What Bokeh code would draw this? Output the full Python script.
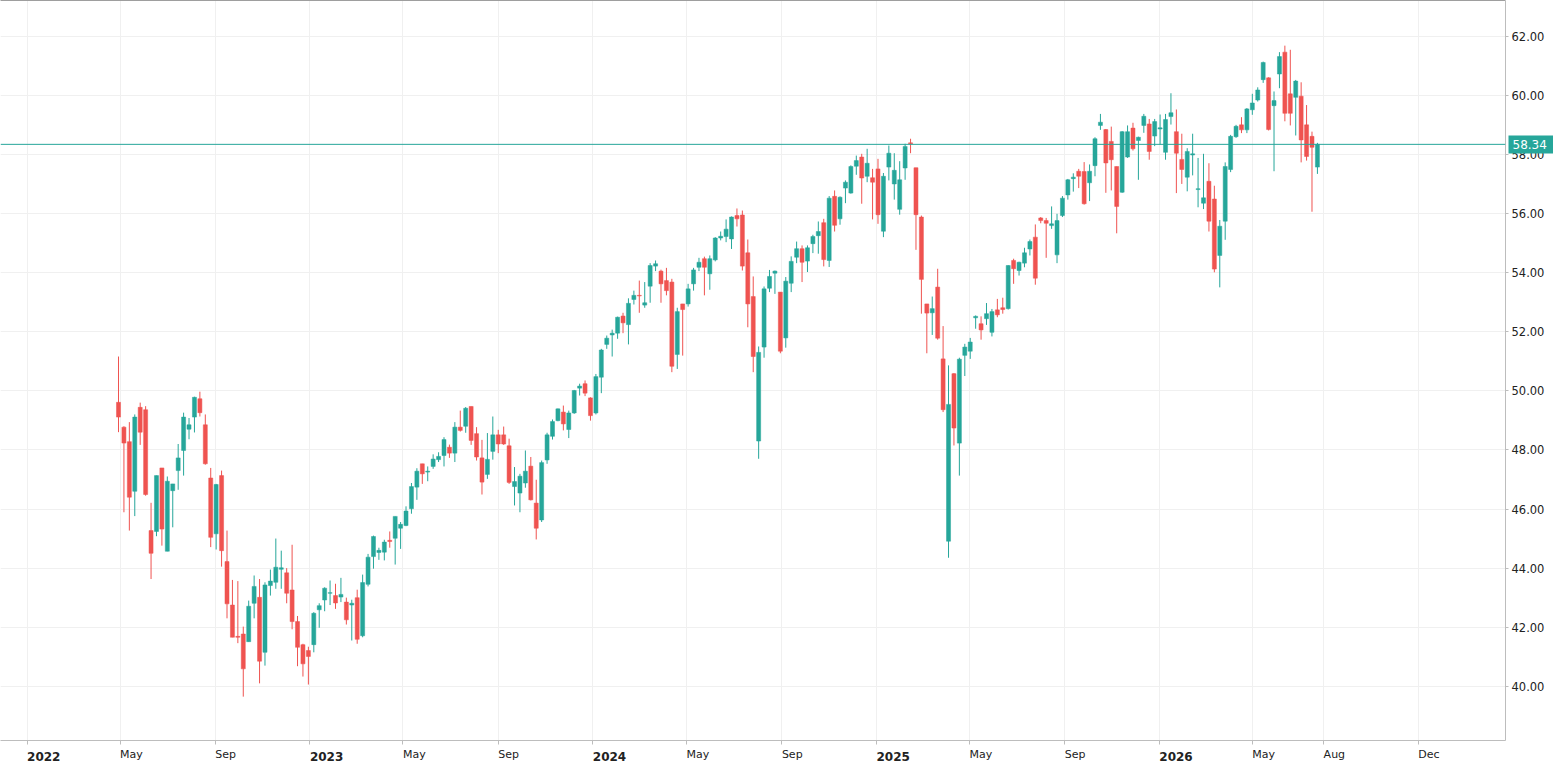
import pandas as pd
from bokeh.plotting import figure
from bokeh.models import (ColumnDataSource, Range1d, FixedTicker, DatetimeAxis,
                          LinearAxis, NumeralTickFormatter, Span)
from bokeh.embed import file_html
from bokeh.resources import INLINE

# weekly candles, first bar dated Friday 2022-04-29
first_week = "2022-04-29"

opens = [
    49.61, 48.77, 48.28, 46.60, 49.44, 49.36, 45.27, 45.24, 47.39, 44.57,
    46.62, 47.30, 47.98, 48.70, 49.11, 49.73, 48.85, 47.05, 45.16, 47.13,
    44.22, 42.75, 41.69, 41.77, 41.51, 42.81, 43.01, 41.15, 43.41, 43.52,
    43.96, 43.84, 43.26, 42.19, 41.41, 41.21, 41.41, 42.59, 42.92, 43.15,
    43.07, 43.02, 42.85, 42.75, 43.00, 41.71, 43.45, 44.39, 44.53, 44.54,
    44.94, 45.01, 45.35, 45.44, 46.01, 46.74, 47.53, 47.25, 47.44, 47.67,
    47.81, 48.09, 47.89, 48.77, 48.80, 49.47, 48.55, 47.73, 47.17, 47.95,
    48.51, 48.51, 48.14, 46.76, 46.54, 46.88, 47.45, 46.20, 45.63, 47.66,
    48.46, 48.99, 49.28, 48.69, 49.25, 50.09, 50.24, 49.76, 49.25, 50.46,
    51.57, 51.89, 51.95, 52.53, 52.24, 53.09, 53.23, 52.90, 53.54, 54.22,
    54.05, 53.73, 53.68, 51.23, 52.94, 52.94, 53.62, 54.18, 54.47, 53.96,
    54.43, 55.17, 55.22, 55.14, 55.93, 55.95, 54.67, 53.19, 48.30, 51.48,
    53.47, 53.98, 53.34, 51.79, 53.64, 54.52, 54.81, 54.39, 54.98, 55.25,
    55.69, 54.41, 56.58, 55.82, 56.86, 56.69, 57.60, 57.91, 57.26, 57.21,
    57.51, 55.40, 57.57, 57.00, 56.14, 57.54, 58.39, 57.55, 55.88, 52.94,
    52.64, 53.51, 51.08, 44.91, 50.58, 48.23, 51.20, 51.34, 52.47, 52.27,
    52.44, 51.98, 52.74, 52.81, 52.78, 54.41, 54.07, 54.32, 54.80, 55.20,
    55.85, 55.76, 55.59, 54.60, 55.93, 56.63, 57.18, 57.43, 57.42, 57.04,
    57.62, 58.98, 58.84, 58.44, 57.59, 56.72, 57.91, 58.89, 58.47, 58.98,
    59.03, 58.62, 58.86, 58.07, 59.28, 58.77, 57.83, 57.23, 57.98, 56.81,
    56.35, 57.09, 56.49, 54.58, 55.74, 57.49, 58.60, 59.00, 58.83, 59.51,
    59.84, 60.53, 60.59, 59.65, 60.72, 61.46, 60.05, 59.93, 59.97, 59.00,
    58.61, 57.57,
]
highs = [
    51.16, 48.80, 48.94, 49.20, 49.60, 49.48, 46.21, 47.13, 47.39, 47.10,
    46.85, 48.20, 49.26, 49.08, 49.80, 49.97, 49.20, 47.39, 46.85, 47.30,
    45.27, 43.60, 43.56, 42.02, 42.90, 43.75, 43.63, 43.52, 43.95, 45.00,
    44.59, 44.00, 44.79, 42.38, 41.44, 41.34, 42.51, 42.81, 43.35, 43.58,
    43.47, 43.67, 43.00, 42.93, 43.27, 43.78, 44.48, 45.10, 44.69, 44.96,
    45.24, 45.75, 45.56, 46.09, 46.88, 47.38, 47.53, 47.44, 47.85, 47.92,
    48.43, 48.18, 48.94, 49.33, 49.45, 49.47, 48.77, 48.34, 48.57, 49.13,
    48.68, 48.79, 48.38, 47.42, 47.19, 47.98, 47.76, 46.99, 47.64, 48.58,
    49.03, 49.40, 49.50, 49.33, 50.03, 50.24, 50.35, 49.78, 50.57, 51.42,
    51.87, 52.07, 52.51, 52.64, 53.13, 53.39, 53.73, 53.68, 54.32, 54.41,
    54.10, 54.16, 53.79, 52.81, 52.94, 53.62, 54.16, 54.50, 54.54, 54.58,
    55.20, 55.39, 55.80, 55.90, 56.17, 56.10, 55.12, 53.87, 51.50, 53.53,
    54.09, 54.07, 53.34, 53.85, 54.55, 55.05, 54.92, 54.92, 55.28, 55.73,
    55.82, 56.59, 56.78, 56.58, 57.12, 57.63, 57.96, 58.02, 58.19, 57.51,
    57.85, 57.37, 58.30, 58.04, 57.77, 58.36, 58.53, 57.55, 55.93, 52.94,
    53.19, 54.13, 52.19, 50.86, 50.60, 51.12, 51.59, 51.79, 52.55, 52.52,
    52.97, 52.77, 53.11, 53.15, 54.25, 54.47, 54.37, 54.84, 55.12, 55.63,
    55.88, 55.85, 56.24, 55.99, 56.59, 57.17, 57.36, 57.51, 57.74, 57.66,
    58.58, 59.37, 58.86, 58.94, 57.59, 58.79, 58.98, 59.07, 58.60, 59.37,
    59.20, 59.20, 59.35, 59.37, 60.07, 59.52, 58.70, 58.21, 58.70, 57.88,
    58.02, 57.70, 56.94, 55.78, 57.73, 58.66, 59.00, 59.26, 59.57, 60.05,
    60.27, 61.14, 60.61, 60.13, 61.46, 61.68, 61.54, 60.52, 60.44, 59.67,
    58.77, 58.39,
]
lows = [
    48.60, 45.89, 45.27, 45.76, 48.17, 46.45, 43.63, 45.08, 44.76, 44.57,
    45.38, 46.65, 47.13, 48.36, 48.59, 49.13, 47.50, 44.71, 44.63, 44.05,
    42.30, 41.66, 41.46, 39.65, 41.51, 42.30, 40.10, 40.70, 43.07, 43.30,
    43.30, 42.81, 41.93, 40.68, 40.33, 40.06, 41.15, 41.98, 42.54, 42.75,
    42.62, 42.85, 42.09, 41.55, 41.44, 41.66, 43.38, 43.98, 44.28, 44.26,
    44.69, 44.12, 44.65, 45.42, 45.84, 46.31, 46.85, 46.94, 47.36, 47.59,
    47.44, 47.73, 47.59, 48.62, 48.58, 48.17, 47.64, 46.49, 47.02, 47.67,
    47.89, 48.17, 46.85, 46.12, 45.89, 46.72, 46.29, 44.97, 45.56, 47.53,
    48.35, 48.97, 48.66, 48.40, 49.22, 49.84, 49.82, 48.99, 49.20, 49.92,
    51.42, 51.16, 51.76, 51.95, 51.57, 52.92, 52.64, 52.81, 52.98, 54.05,
    52.98, 53.23, 50.63, 50.74, 51.19, 52.85, 53.39, 54.05, 53.23, 53.42,
    54.38, 55.09, 55.03, 54.80, 55.56, 54.07, 52.15, 50.63, 47.70, 51.12,
    53.34, 53.28, 51.27, 51.46, 53.34, 54.32, 53.68, 54.02, 54.66, 54.64,
    54.21, 54.19, 55.39, 55.62, 56.35, 56.67, 57.31, 56.33, 57.06, 55.80,
    55.65, 55.20, 57.12, 56.47, 55.96, 57.14, 58.04, 54.77, 52.61, 51.27,
    51.89, 51.73, 49.28, 44.35, 48.15, 47.13, 50.50, 51.08, 52.10, 51.73,
    52.23, 51.84, 52.49, 52.61, 52.75, 53.62, 53.90, 54.18, 54.58, 53.59,
    55.67, 54.50, 55.48, 54.32, 55.88, 56.47, 56.74, 56.86, 56.30, 56.42,
    57.26, 58.83, 56.70, 56.78, 55.33, 56.70, 57.88, 58.13, 57.14, 58.73,
    57.82, 58.28, 58.33, 57.82, 59.01, 56.69, 57.00, 56.75, 57.29, 56.21,
    56.15, 55.39, 54.01, 53.50, 55.11, 57.40, 58.56, 58.72, 58.72, 59.34,
    59.79, 60.42, 58.81, 57.43, 60.24, 59.12, 58.98, 58.64, 57.73, 57.79,
    56.06, 57.34,
]
closes = [
    49.11, 48.23, 46.40, 49.11, 48.60, 46.49, 44.50, 47.13, 45.32, 46.94,
    46.85, 47.73, 49.11, 48.85, 49.78, 49.26, 47.53, 45.04, 46.83, 44.59,
    42.79, 41.66, 41.66, 40.59, 42.71, 43.38, 40.85, 43.43, 43.56, 44.03,
    44.01, 43.15, 42.19, 41.32, 40.76, 41.01, 42.47, 42.73, 43.32, 43.17,
    42.82, 43.11, 42.25, 42.81, 41.59, 43.51, 44.37, 45.07, 44.60, 44.88,
    44.90, 45.75, 45.48, 45.93, 46.76, 47.28, 47.19, 47.28, 47.69, 47.78,
    48.35, 47.89, 48.77, 48.66, 49.41, 48.32, 47.76, 46.91, 47.68, 48.51,
    48.20, 48.20, 46.90, 46.93, 47.11, 47.28, 46.31, 45.35, 47.57, 48.51,
    48.96, 49.39, 48.88, 49.25, 50.01, 50.16, 49.92, 49.16, 50.48, 51.38,
    51.78, 51.95, 52.49, 52.30, 52.96, 53.23, 53.21, 52.98, 54.24, 54.30,
    53.62, 53.39, 50.83, 52.68, 52.75, 53.45, 54.09, 54.35, 54.18, 54.47,
    55.17, 55.23, 55.47, 55.88, 55.82, 54.22, 52.94, 51.16, 51.30, 53.45,
    53.87, 54.05, 51.34, 53.71, 54.38, 54.81, 54.35, 54.84, 55.22, 55.39,
    54.44, 56.52, 55.60, 56.55, 57.06, 57.59, 57.79, 57.20, 57.70, 57.06,
    55.96, 57.26, 58.04, 57.46, 57.14, 58.27, 58.36, 55.96, 53.77, 52.63,
    52.78, 51.78, 49.36, 49.54, 48.74, 51.07, 51.48, 51.65, 52.52, 52.06,
    52.61, 52.68, 52.57, 52.75, 54.24, 54.13, 54.35, 54.67, 55.05, 53.81,
    55.76, 55.67, 55.65, 55.76, 56.52, 57.14, 57.23, 57.26, 56.33, 57.43,
    58.53, 59.09, 57.71, 57.82, 56.24, 58.77, 58.77, 58.19, 58.58, 59.29,
    58.10, 59.11, 58.90, 59.18, 59.41, 58.04, 57.49, 58.10, 58.02, 56.84,
    56.53, 55.74, 54.12, 55.57, 57.59, 58.61, 58.95, 58.83, 59.54, 59.74,
    60.18, 61.11, 58.84, 59.82, 61.31, 59.39, 59.39, 60.48, 58.49, 57.93,
    58.24, 58.34,
]

last_price = 58.34

tick_dates = ["2022-01-01", "2022-05-01", "2022-09-01", "2023-01-01", "2023-05-01",
              "2023-09-01", "2024-01-01", "2024-05-01", "2024-09-01", "2025-01-01",
              "2025-05-01", "2025-09-01", "2026-01-01", "2026-05-01", "2026-08-01",
              "2026-12-01"]
tick_labels = ["2022", "May", "Sep", "2023", "May", "Sep", "2024", "May", "Sep", "2025",
               "May", "Sep", "2026", "May", "Aug", "Dec"]
price_ticks = [40, 42, 44, 46, 48, 50, 52, 54, 56, 58, 60, 62]

UP = "#26a69a"
DOWN = "#ef5350"
FONT = "DejaVu Sans"
TEXT = "#222222"
AXIS = "#bdbdbd"
FLAT = -1e-4   # a numeric (practically zero) angle makes bokeh left-align the labels

dates = pd.date_range(first_week, periods=len(opens), freq="7D")
colors = [UP if c >= o else DOWN for o, c in zip(opens, closes)]
source = ColumnDataSource(dict(
    date=dates, open=opens, high=highs, low=lows, close=closes,
    top=[max(o, c) for o, c in zip(opens, closes)],
    bottom=[min(o, c) for o, c in zip(opens, closes)],
    color=colors,
))

x_start = dates[0] - pd.Timedelta(days=152.26)
x_end = dates[0] + pd.Timedelta(days=1789.68)
y_lo, y_hi = 38.166, 63.208

p = figure(frame_width=1505, frame_height=740, x_axis_type="datetime",
           y_axis_location="right",
           x_range=Range1d(x_start, x_end), y_range=Range1d(y_lo, y_hi),
           output_backend="svg", toolbar_location=None,
           min_border_left=0, min_border_top=0, min_border_right=48, min_border_bottom=27)
p.background_fill_color = "white"
p.border_fill_color = "white"
p.outline_line_color = None

# candles
bar_w = pd.Timedelta(days=5.2).total_seconds() * 1000
p.segment(x0="date", y0="low", x1="date", y1="high", color="color", line_width=1, source=source)
p.vbar(x="date", width=bar_w, top="top", bottom="bottom", fill_color="color",
       line_color="color", line_width=0.5, source=source)

# last price line
p.add_layout(Span(location=last_price, dimension="width", line_color=UP, line_width=1))

# bottom axis: month names; the bold years come from a second axis stacked
# below it and pulled back up with a negative standoff
tick_ms = [pd.Timestamp(t).value // 10**6 for t in tick_dates]
year_ms = [ms for ms, lab in zip(tick_ms, tick_labels) if lab.isdigit()]
xaxis = p.xaxis[0]
xaxis.ticker = FixedTicker(ticks=tick_ms)
xaxis.major_label_overrides = {
    ms: ("" if lab.isdigit() else lab) for ms, lab in zip(tick_ms, tick_labels)
}
xaxis.major_label_orientation = FLAT
xaxis.major_label_text_font = FONT
xaxis.major_label_text_font_size = "11px"
xaxis.major_label_text_color = TEXT
xaxis.major_label_standoff = 10
xaxis.major_tick_out = 4
xaxis.major_tick_in = 0
xaxis.minor_tick_out = 0
xaxis.minor_tick_in = 0
xaxis.axis_line_color = AXIS
xaxis.major_tick_line_color = AXIS

year_axis = DatetimeAxis(ticker=FixedTicker(ticks=year_ms))
year_axis.major_label_overrides = {
    ms: lab for ms, lab in zip(tick_ms, tick_labels) if lab.isdigit()
}
year_axis.major_label_orientation = FLAT
year_axis.major_label_text_font = FONT
year_axis.major_label_text_font_size = "12px"
year_axis.major_label_text_font_style = "bold"
year_axis.major_label_text_color = TEXT
year_axis.major_label_standoff = -14
year_axis.major_tick_out = 0
year_axis.major_tick_in = 0
year_axis.minor_tick_out = 0
year_axis.minor_tick_in = 0
year_axis.axis_line_color = None
year_axis.major_tick_line_color = None
p.add_layout(year_axis, "below")

yaxis = p.yaxis[0]
yaxis.ticker = FixedTicker(ticks=price_ticks)
yaxis.formatter = NumeralTickFormatter(format="0.00")
yaxis.major_label_text_font = FONT
yaxis.major_label_text_font_size = "11.5px"
yaxis.major_label_text_color = TEXT
yaxis.major_label_standoff = 3
yaxis.major_tick_out = 3
yaxis.major_tick_in = 0
yaxis.minor_tick_out = 0
yaxis.minor_tick_in = 0
yaxis.axis_line_color = AXIS
yaxis.major_tick_line_color = AXIS

# price tag: a second right axis, its wide tick reaching back to the frame
# forms the box and its label sits on top
tag_axis = LinearAxis(ticker=FixedTicker(ticks=[last_price]),
                      formatter=NumeralTickFormatter(format="0.00"))
tag_axis.axis_line_color = None
tag_axis.major_tick_in = 39
tag_axis.major_tick_out = 7
tag_axis.major_tick_line_color = UP
tag_axis.major_tick_line_width = 18
tag_axis.major_tick_line_cap = "butt"
tag_axis.minor_tick_out = 0
tag_axis.minor_tick_in = 0
tag_axis.major_label_standoff = -42
tag_axis.major_label_text_font = FONT
tag_axis.major_label_text_font_size = "12px"
tag_axis.major_label_text_color = "white"
p.add_layout(tag_axis, "right")

# thin top border
top_axis = DatetimeAxis(ticker=FixedTicker(ticks=[]))
top_axis.axis_line_color = "#9e9e9e"
top_axis.major_tick_out = 0
top_axis.major_tick_in = 0
top_axis.minor_tick_out = 0
top_axis.minor_tick_in = 0
top_axis.major_tick_line_color = None
top_axis.minor_tick_line_color = None
p.add_layout(top_axis, "above")

p.xgrid.grid_line_color = "#f0f0f0"
p.ygrid.grid_line_color = "#f0f0f0"

open("out.html", "w").write(file_html(p, INLINE))
